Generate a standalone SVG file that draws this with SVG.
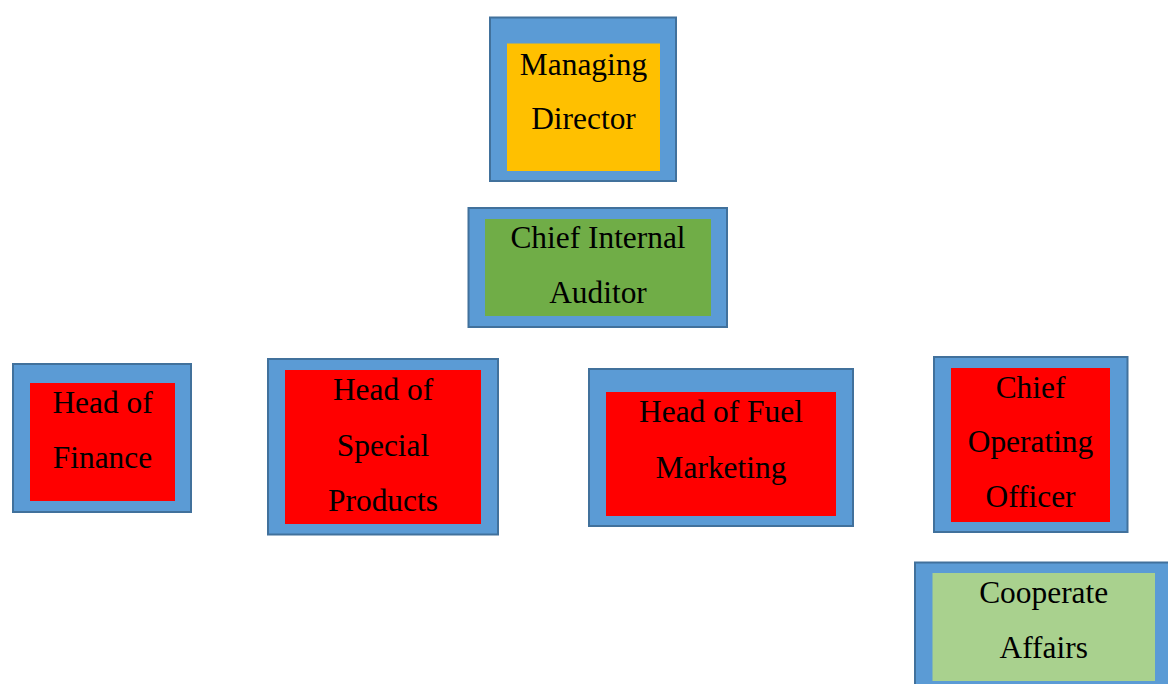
<svg xmlns="http://www.w3.org/2000/svg" width="1168" height="684" viewBox="0 0 1168 684">
  <style>
    .frame { fill: #5B9BD5; stroke: #41719C; stroke-width: 2; }
    .md { fill: #FFC000; }
    .audit { fill: #70AD47; }
    .head { fill: #FF0000; }
    .affairs { fill: #A9D18E; }
    .label { font-family: "Liberation Serif", "Times New Roman", serif; font-size: 31.4px; fill: #000000; text-anchor: middle; }
  </style>
  <rect width="1168" height="684" fill="#FFFFFF"/>

  <!-- no connectors are drawn between the boxes -->
  <g id="connectors"></g>

  <g id="managing-director">
    <rect class="frame" x="490" y="17.5" width="186" height="163.5"/>
    <rect class="md" x="507" y="43.5" width="153" height="127.5"/>
    <text class="label" x="583.5" y="75">Managing</text>
    <text class="label" x="583.5" y="129">Director</text>
  </g>

  <g id="chief-internal-auditor">
    <rect class="frame" x="468.5" y="208" width="258.5" height="119"/>
    <rect class="audit" x="485" y="219" width="226" height="97"/>
    <text class="label" x="598" y="248.3">Chief Internal</text>
    <text class="label" x="598" y="303">Auditor</text>
  </g>

  <g id="head-of-finance">
    <rect class="frame" x="13" y="364" width="178" height="148"/>
    <rect class="head" x="30" y="383" width="145" height="118"/>
    <text class="label" x="102.5" y="412.7">Head of</text>
    <text class="label" x="102.5" y="468">Finance</text>
  </g>

  <g id="head-of-special-products">
    <rect class="frame" x="268" y="359" width="230" height="175.5"/>
    <rect class="head" x="285" y="370" width="196" height="154"/>
    <text class="label" x="383" y="400">Head of</text>
    <text class="label" x="383" y="456">Special</text>
    <text class="label" x="383" y="511">Products</text>
  </g>

  <g id="head-of-fuel-marketing">
    <rect class="frame" x="589" y="369" width="264" height="157"/>
    <rect class="head" x="606" y="392" width="230" height="124"/>
    <text class="label" x="721" y="421.7">Head of Fuel</text>
    <text class="label" x="721" y="478.3">Marketing</text>
  </g>

  <g id="chief-operating-officer">
    <rect class="frame" x="934" y="357" width="193.5" height="175"/>
    <rect class="head" x="951" y="368" width="159" height="154"/>
    <text class="label" x="1030.5" y="397.7">Chief</text>
    <text class="label" x="1030.5" y="452.3">Operating</text>
    <text class="label" x="1030.5" y="507.3">Officer</text>
  </g>

  <g id="cooperate-affairs">
    <rect class="frame" x="915" y="562.5" width="264" height="136"/>
    <rect class="affairs" x="932.5" y="573" width="222.5" height="108"/>
    <text class="label" x="1043.7" y="603.3">Cooperate</text>
    <text class="label" x="1043.7" y="658.3">Affairs</text>
  </g>
</svg>
